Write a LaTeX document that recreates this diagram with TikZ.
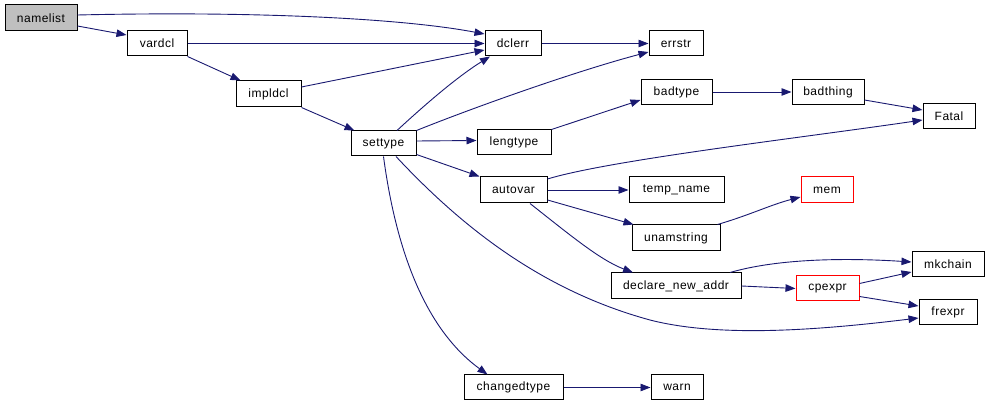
\documentclass[tikz,border=0pt]{standalone}
\usepackage{fontspec}
\setmainfont{Liberation Sans}[LetterSpace=4]
\usetikzlibrary{arrows.meta,calc}
\definecolor{edgecol}{HTML}{191970}
\definecolor{rootfill}{HTML}{BFBFBF}
\begin{document}
\begin{tikzpicture}[x=1pt,y=-1pt,
  box/.style={draw=black,line width=1pt,inner sep=0pt,font=\fontsize{12}{14}\selectfont,text=black},
  redbox/.style={box,draw=red,text=black},
  edge/.style={draw=edgecol,line width=0.9pt,-{Triangle[length=10pt,width=7.5pt]}}]
\useasboundingbox (0,0) rectangle (989,403);
% nodes
\node[box,fill=rootfill,minimum width=72,minimum height=26] (namelist) at (41,18) {namelist};
\node[box,minimum width=60,minimum height=25] (vardcl) at (157,43.5) {vardcl};
\node[box,minimum width=65,minimum height=26] (impldcl) at (268.5,94) {impldcl};
\node[box,minimum width=56,minimum height=25] (dclerr) at (513,43.5) {dclerr};
\node[box,minimum width=54,minimum height=25] (errstr) at (676,43.5) {errstr};
\node[box,minimum width=71,minimum height=25] (badtype) at (676.5,92) {badtype};
\node[box,minimum width=72,minimum height=25] (badthing) at (828,92) {badthing};
\node[box,minimum width=52,minimum height=25] (Fatal) at (949,116.5) {Fatal};
\node[box,minimum width=65,minimum height=25] (settype) at (383.5,143.5) {settype};
\node[box,minimum width=74,minimum height=25] (lengtype) at (514,142.5) {lengtype};
\node[box,minimum width=67,minimum height=26] (autovar) at (513.5,190) {autovar};
\node[box,minimum width=95,minimum height=26] (tempname) at (676.5,190) {temp\_name};
\node[redbox,minimum width=52,minimum height=26] (mem) at (827,190) {\color{black}mem};
\node[box,minimum width=88,minimum height=26] (unamstring) at (676,238) {unamstring};
\node[box,minimum width=130,minimum height=26] (declare) at (676,286) {declare\_new\_addr};
\node[redbox,minimum width=63,minimum height=25] (cpexpr) at (827.5,288.5) {\color{black}cpexpr};
\node[box,minimum width=72,minimum height=25] (mkchain) at (948,264.5) {mkchain};
\node[box,minimum width=58,minimum height=25] (frexpr) at (948,312.5) {frexpr};
\node[box,minimum width=99,minimum height=25] (changedtype) at (513.5,387.5) {changedtype};
\node[box,minimum width=52,minimum height=25] (warn) at (677,387.5) {warn};
% edges
\draw[edge] ($(namelist.east)+(0,-3)$) .. controls (250,11) and (400,18) .. ($(dclerr.west)+(0,-9.5)$);
\draw[edge] ($(namelist.east)+(0,8)$) -- ($(vardcl.west)+(0,-8.5)$);
\draw[edge] (vardcl.east) -- (dclerr.west);
\draw[edge] (vardcl.south east) -- ($(impldcl.north west)+(5,0)$);
\draw[edge] ($(impldcl.east)+(0,-7)$) -- ($(dclerr.west)+(0,6.5)$);
\draw[edge] (impldcl.south east) -- ($(settype.north west)+(4,0)$);
\draw[edge] ($(settype.north)+(13.5,0)$) .. controls (430,100) and (460,75) .. ($(dclerr.south)+(-23,0)$);
\draw[edge] (settype.north east) .. controls (480,105) and (580,70) .. ($(errstr.west)+(0,8.5)$);
\draw[edge] ($(settype.east)+(0,-2.5)$) -- ($(lengtype.west)+(0,-2)$);
\draw[edge] ($(settype.east)+(0,11)$) -- (autovar.north west);
\draw[edge] (settype.south) .. controls (400,280) and (440,340) .. ($(changedtype.north)+(-26,0)$);
\draw[edge] ($(settype.south)+(12.5,0)$) .. controls (460,225) and (540,290) .. (650,320) .. controls (720,338) and (820,330) .. ($(frexpr.west)+(0,5.5)$);
\draw[edge] (dclerr.east) -- (errstr.west);
\draw[edge] (lengtype.north east) -- ($(badtype.west)+(0,8)$);
\draw[edge] (badtype.east) -- (badthing.west);
\draw[edge] ($(badthing.east)+(0,8)$) -- ($(Fatal.west)+(0,-6.5)$);
\draw[edge] ($(autovar.east)+(0,-11)$) .. controls (610,160) and (800,138) .. ($(Fatal.west)+(0,3.5)$);
\draw[edge] (autovar.east) -- (tempname.west);
\draw[edge] ($(autovar.east)+(0,10)$) -- ($(unamstring.north west)+(2,0)$);
\draw[edge] ($(autovar.south)+(16.5,0)$) .. controls (570,235) and (600,260) .. ($(declare.north)+(-43,0)$);
\draw[edge] ($(unamstring.north east)+(-3,0)$) .. controls (750,215) and (770,205) .. ($(mem.west)+(0,7)$);
\draw[edge] ($(declare.north)+(54,0)$) .. controls (780,258) and (850,258) .. ($(mkchain.west)+(0,-2.5)$);
\draw[edge] (declare.east) -- (cpexpr.west);
\draw[edge] ($(cpexpr.east)+(0,-5)$) -- ($(mkchain.west)+(0,7.5)$);
\draw[edge] ($(cpexpr.east)+(0,8)$) -- ($(frexpr.west)+(0,-6.5)$);
\draw[edge] (changedtype.east) -- (warn.west);
\end{tikzpicture}
\end{document}
